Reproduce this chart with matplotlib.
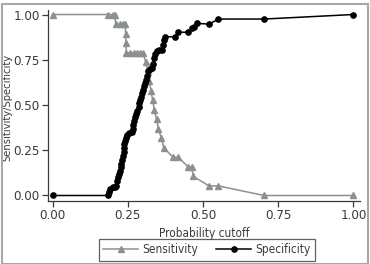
import matplotlib
matplotlib.use("Agg")
import matplotlib.pyplot as plt
from matplotlib.patches import Rectangle

# cutoff / value pairs
sens_x = [0.000, 0.185, 0.200, 0.207, 0.210, 0.224, 0.233, 0.242, 0.243, 0.244,
          0.245, 0.257, 0.272, 0.281, 0.291, 0.300, 0.310, 0.317, 0.322, 0.327,
          0.333, 0.338, 0.346, 0.352, 0.362, 0.370, 0.401, 0.418, 0.451, 0.462,
          0.468, 0.520, 0.551, 0.703, 1.000]
sens_y = [1.000, 1.000, 1.000, 1.000, 0.947, 0.947, 0.947, 0.947, 0.895, 0.842,
          0.789, 0.789, 0.789, 0.789, 0.789, 0.789, 0.737, 0.684, 0.632, 0.579,
          0.526, 0.474, 0.421, 0.368, 0.316, 0.263, 0.211, 0.211, 0.158, 0.158,
          0.105, 0.053, 0.053, 0.000, 0.000]

spec_x = [0.000, 0.185, 0.188, 0.190, 0.202, 0.208, 0.212, 0.214, 0.218, 0.221,
          0.224, 0.227, 0.229, 0.232, 0.234, 0.236, 0.237, 0.238, 0.240, 0.243,
          0.247, 0.255, 0.263, 0.266, 0.268, 0.271, 0.274, 0.278, 0.282, 0.286,
          0.289, 0.292, 0.295, 0.298, 0.301, 0.304, 0.307, 0.311, 0.314, 0.318,
          0.325, 0.331, 0.333, 0.336, 0.340, 0.346, 0.354, 0.363, 0.367, 0.369,
          0.374, 0.407, 0.418, 0.451, 0.465, 0.471, 0.479, 0.521, 0.551, 0.704,
          1.000]
spec_y = [0.000, 0.000, 0.020, 0.035, 0.047, 0.047, 0.050, 0.080, 0.100, 0.118,
          0.135, 0.155, 0.175, 0.195, 0.220, 0.240, 0.262, 0.285, 0.300, 0.318,
          0.333, 0.345, 0.352, 0.370, 0.390, 0.410, 0.432, 0.450, 0.468, 0.490,
          0.510, 0.528, 0.545, 0.565, 0.585, 0.605, 0.620, 0.640, 0.660, 0.690,
          0.700, 0.703, 0.725, 0.758, 0.780, 0.800, 0.804, 0.804, 0.831, 0.859,
          0.877, 0.877, 0.902, 0.902, 0.927, 0.933, 0.951, 0.947, 0.975, 0.975,
          1.000]

ticks = [0.00, 0.25, 0.50, 0.75, 1.00]
tick_labels = ["0.00", "0.25", "0.50", "0.75", "1.00"]

plt.rcParams['font.family'] = ['DejaVu Sans']
plt.rcParams['font.stretch'] = 'condensed'
txt = '#3a3a3a'
gray = '#8c9090'

fig = plt.figure(figsize=(3.70, 2.64), dpi=100)
ax = fig.add_axes([48/370, 63/264, 312/370, 191/264])

ax.plot(sens_x, sens_y, color=gray, lw=1.1, marker='^', ms=4.5,
        mec=gray, mfc=gray, label='Sensitivity')
ax.plot(spec_x, spec_y, color='black', lw=1.1, marker='o', ms=3.8,
        mec='black', mfc='black', label='Specificity')

ax.set_xlim(-0.015, 1.0216)
ax.set_ylim(-0.0304, 1.0249)
ax.set_xticks(ticks)
ax.set_xticklabels(tick_labels)
ax.set_yticks(ticks)
ax.set_yticklabels(tick_labels)
ax.tick_params(direction='out', length=4, width=0.9, colors=txt,
               labelsize=9.5, pad=2)
for s in ['top', 'right']:
    ax.spines[s].set_visible(False)
for s in ['left', 'bottom']:
    ax.spines[s].set_color(txt)
    ax.spines[s].set_linewidth(0.9)

ax.set_xlabel('Probability cutoff', fontsize=8.5, color=txt, labelpad=3)
ax.set_ylabel('Sensitivity/Specificity', fontsize=8, color=txt)
ax.yaxis.set_label_coords(-0.115, 0.49)

leg = fig.legend(loc='center', bbox_to_anchor=(206.7/370, 1 - 250/264), ncol=2,
                 fontsize=8.5, frameon=True, fancybox=False, handlelength=3.0,
                 columnspacing=1.5, borderpad=0.35, handletextpad=0.35)
leg.get_frame().set_edgecolor(txt)
leg.get_frame().set_linewidth(0.9)
for t in leg.get_texts():
    t.set_color(txt)

# grey frame round the whole figure
fig.patches.append(Rectangle((2/370, 0.0), 366/370, 260/264,
                             transform=fig.transFigure, fill=False,
                             edgecolor='#a8a8a8', lw=1.5))

fig.savefig('out.png', dpi=100)
